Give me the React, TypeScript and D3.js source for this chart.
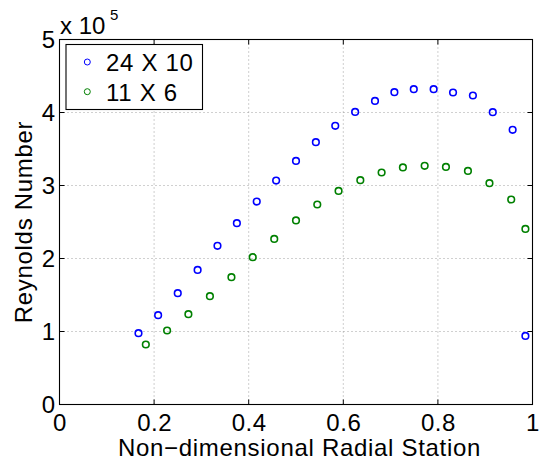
import React from "react";
import * as d3 from "d3";

const blueX = [0.167, 0.2085, 0.25, 0.292, 0.334, 0.375, 0.417, 0.458, 0.5, 0.542, 0.583, 0.625, 0.667, 0.708, 0.749, 0.791, 0.832, 0.874, 0.916, 0.958, 0.985];
const blueY = [0.977, 1.223, 1.525, 1.844, 2.173, 2.484, 2.78, 3.068, 3.337, 3.593, 3.817, 4.008, 4.159, 4.278, 4.319, 4.319, 4.274, 4.233, 4.004, 3.762, 0.94];
const greenX = [0.1825, 0.2275, 0.2725, 0.318, 0.3635, 0.4085, 0.454, 0.5, 0.545, 0.59, 0.636, 0.681, 0.726, 0.772, 0.817, 0.8635, 0.909, 0.955, 0.985];
const greenY = [0.822, 1.014, 1.237, 1.484, 1.744, 2.018, 2.268, 2.521, 2.74, 2.926, 3.073, 3.178, 3.247, 3.269, 3.255, 3.2, 3.032, 2.808, 2.405];
const xTicks = [0, 0.2, 0.4, 0.6, 0.8, 1];
const xTickLabels = ["0", "0.2", "0.4", "0.6", "0.8", "1"];
const yTicks = [0, 1, 2, 3, 4, 5];
const seriesNames = ["24 X 10", "11 X 6"];
const seriesColors = ["#0000ff", "#008000"];

const W = 545, H = 463;
const L = 59.5, R = 532.5, T = 39.5, B = 404.5;
const FONT = "'Liberation Sans', Arial, Helvetica, sans-serif";
const FS = 24;
const LS = 0.7;

export default function App() {
  const x = d3.scaleLinear().domain([0, 1]).range([L, R]);
  const y = d3.scaleLinear().domain([0, 5]).range([B, T]);
  const series = [
    { name: seriesNames[0], color: seriesColors[0], pts: blueX.map((v, i) => [v, blueY[i]]) },
    { name: seriesNames[1], color: seriesColors[1], pts: greenX.map((v, i) => [v, greenY[i]]) },
  ];
  const tl = 5;
  return (
    <svg width={W} height={H} style={{ position: "fixed", left: 0, top: 0, background: "#fff" }} fontFamily={FONT}>
      <rect x={0} y={0} width={W} height={H} fill="#fff" />
      {xTicks.slice(1, -1).map((t) => (
        <line key={"gx" + t} x1={x(t)} x2={x(t)} y1={T} y2={B} stroke="#888" strokeWidth={0.8} strokeDasharray="1 3" />
      ))}
      {yTicks.slice(1, -1).map((t) => (
        <line key={"gy" + t} x1={L} x2={R} y1={y(t)} y2={y(t)} stroke="#888" strokeWidth={0.8} strokeDasharray="1 3" />
      ))}
      {xTicks.map((t) => (
        <g key={"tx" + t}>
          <line x1={x(t)} x2={x(t)} y1={B} y2={B - tl} stroke="#000" />
          <line x1={x(t)} x2={x(t)} y1={T} y2={T + tl} stroke="#000" />
        </g>
      ))}
      {yTicks.map((t) => (
        <g key={"ty" + t}>
          <line x1={L} x2={L + tl} y1={y(t)} y2={y(t)} stroke="#000" />
          <line x1={R} x2={R - tl} y1={y(t)} y2={y(t)} stroke="#000" />
        </g>
      ))}
      <rect x={L} y={T} width={R - L} height={B - T} fill="none" stroke="#000" strokeWidth={1.1} />
      {series.map((s) =>
        s.pts.map((p, i) => (
          <circle key={s.name + i} cx={x(p[0])} cy={y(p[1])} r={3.3} fill="none" stroke={s.color} strokeWidth={1.6} />
        ))
      )}
      {xTicks.map((t, i) => (
        <text key={"lx" + t} x={x(t) + 0.5} y={431} textAnchor="middle" fontSize={FS} letterSpacing={0.5}>{xTickLabels[i]}</text>
      ))}
      {yTicks.map((t) => (
        <text key={"ly" + t} x={55} y={y(t) + 8.6} textAnchor="end" fontSize={FS}>{t}</text>
      ))}
      <text x={60} y={34} fontSize={FS}>x 10</text>
      <text x={110} y={20} fontSize={15}>5</text>
      <text x={299.5} y={456} textAnchor="middle" fontSize={FS} letterSpacing={LS}>Non−dimensional Radial Station</text>
      <text transform={`translate(32,${(T + B) / 2}) rotate(-90)`} textAnchor="middle" fontSize={FS} letterSpacing={LS}>Reynolds Number</text>
      <rect x={66} y={44.5} width={136.5} height={65} fill="#fff" stroke="#000" strokeWidth={1.1} />
      {series.map((s, i) => (
        <g key={"lg" + i}>
          <circle cx={87.3} cy={62 + i * 29.7} r={3} fill="none" stroke={s.color} strokeWidth={1} />
          <text x={106} y={71 + i * 30} fontSize={FS} letterSpacing={LS}>{s.name}</text>
        </g>
      ))}
    </svg>
  );
}
